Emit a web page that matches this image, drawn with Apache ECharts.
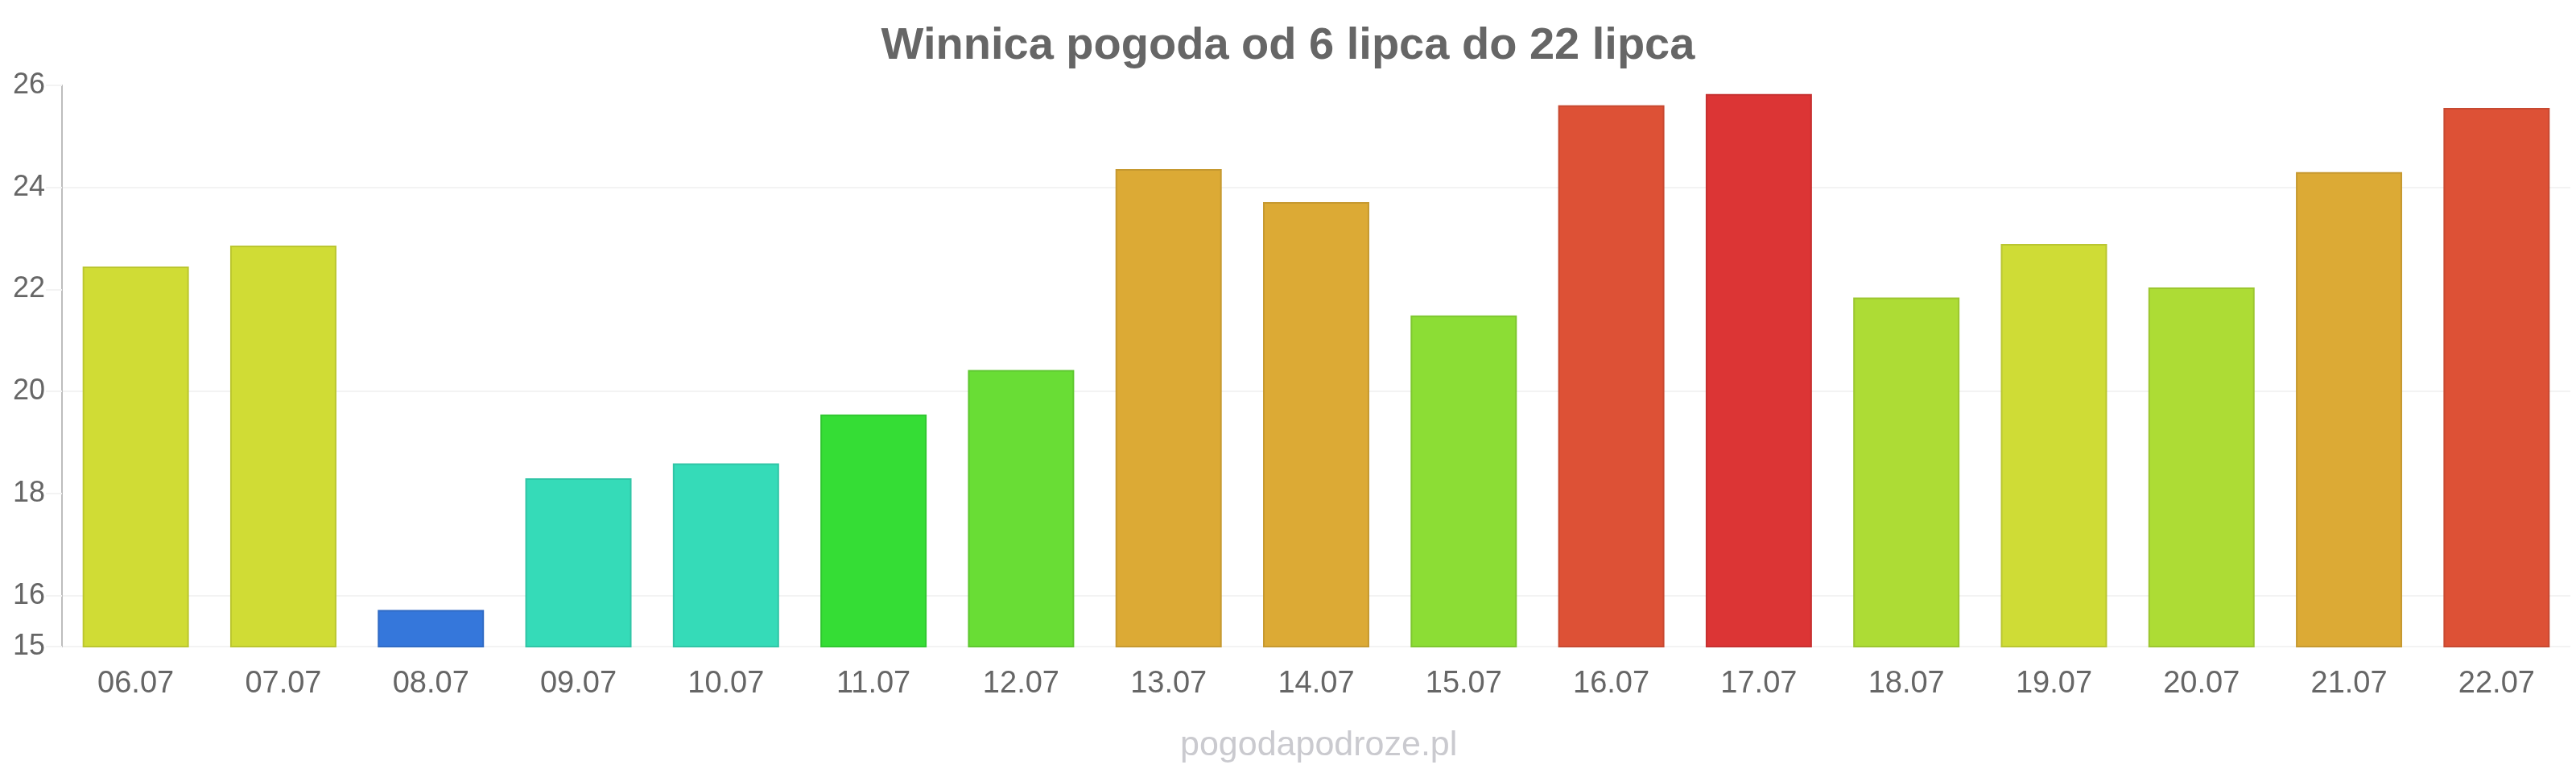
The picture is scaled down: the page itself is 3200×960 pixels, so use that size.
<!DOCTYPE html>
<html>
<head>
<meta charset="utf-8">
<script src="https://cdn.jsdelivr.net/npm/echarts@6/dist/echarts.min.js"></script>
<style>
  html, body { margin: 0; padding: 0; background: #fff; }
  #chart { width: 3200px; height: 960px; }
</style>
</head>
<body>
<div id="chart"></div>
<script>
  const days = ['06.07', '07.07', '08.07', '09.07', '10.07', '11.07', '12.07', '13.07', '14.07',
    '15.07', '16.07', '17.07', '18.07', '19.07', '20.07', '21.07', '22.07']
  const temps = [22.45, 22.86, 15.72, 18.3, 18.59, 19.55, 20.42, 24.36, 23.71,
    21.49, 25.61, 25.83, 21.84, 22.89, 22.04, 24.3, 25.56]
  const barColors = ['#d0dc35', '#d0dc35', '#3577db', '#35dbb8', '#35dbb8', '#35dd35', '#69dd35', '#dcaa35', '#dcaa35',
    '#8cdd35', '#dd5136', '#dc3535', '#addc35', '#cfdc36', '#addc35', '#dcaa35', '#dd5136']
  const yTicks = [15, 16, 18, 20, 22, 24, 26]

  // darker edge for each bar
  function darken(hex, f) {
    const n = parseInt(hex.slice(1), 16)
    const r = Math.round(((n >> 16) & 255) * f)
    const g = Math.round(((n >> 8) & 255) * f)
    const b = Math.round((n & 255) * f)
    return 'rgb(' + r + ',' + g + ',' + b + ')'
  }

  // faint split lines only at the labelled values
  const gridColors = []
  for (let v = 15; v <= 26; v++) {
    gridColors.push(yTicks.indexOf(v) >= 0 ? '#f3f3f3' : 'rgba(0,0,0,0)')
  }

  const chart = echarts.init(document.getElementById('chart'))
  chart.setOption({
    animation: false,
    textStyle: { fontFamily: '"Liberation Sans", Arial, sans-serif' },
    title: [
      {
        text: 'Winnica pogoda od 6 lipca do 22 lipca',
        left: 'center',
        top: 25,
        textStyle: { color: '#666', fontSize: 56, fontWeight: 'bold', fontFamily: '"Liberation Sans", Arial, sans-serif' },
      },
      {
        text: 'pogodapodroze.pl',
        left: 1461,
        top: 900,
        textStyle: { color: '#cacacf', fontSize: 43, fontWeight: 'normal', fontFamily: '"Liberation Sans", Arial, sans-serif' },
      },
    ],
    grid: { left: 77, right: 7, top: 106, bottom: 157 },
    xAxis: {
      type: 'category',
      data: days,
      axisLine: { show: false },
      axisTick: { show: false },
      axisLabel: { color: '#666', fontSize: 38, margin: 28 },
    },
    yAxis: {
      type: 'value',
      min: 15,
      max: 26,
      interval: 1,
      axisLine: { show: true, lineStyle: { color: '#bdbdbd', width: 2 } },
      axisTick: { show: true, length: 20, customValues: yTicks, lineStyle: { color: '#f3f3f3', width: 2 } },
      axisLabel: { color: '#666', fontSize: 36, margin: 21, customValues: yTicks },
      splitLine: { show: true, lineStyle: { color: gridColors, width: 2 } },
    },
    series: [
      {
        type: 'bar',
        barWidth: '72%',
        data: temps.map((v, i) => ({
          value: v,
          itemStyle: { color: barColors[i], borderColor: darken(barColors[i], 0.9), borderWidth: 2 },
        })),
      },
    ],
  })
</script>
</body>
</html>
